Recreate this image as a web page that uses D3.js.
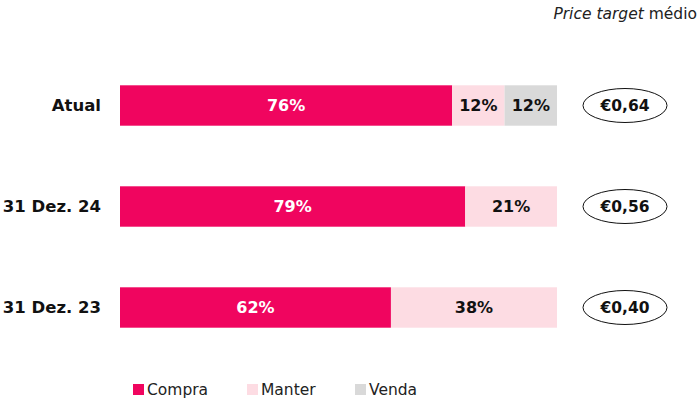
<!doctype html>
<html lang="pt">
<head>
<meta charset="utf-8">
<title>Recomendações</title>
<script src="https://cdn.jsdelivr.net/npm/d3@7"></script>
<style>
  body { margin: 0; background: #fff; font-family: "DejaVu Sans", sans-serif; }
</style>
</head>
<body>
<svg id="chart" width="699" height="400"></svg>
<script>
// data
var categories = ["Atual", "31 Dez. 24", "31 Dez. 23"];
var compra = [76, 79, 62];
var manter = [12, 21, 38];
var venda = [12, 0, 0];
var targets = ["€0,64", "€0,56", "€0,40"];
var seriesNames = ["Compra", "Manter", "Venda"];
var colors = ["#F0055F", "#FDDCE3", "#D9D9D9"];

var svg = d3.select("#chart");

var x = d3.scaleLinear().domain([0, 100]).range([120, 557]);
var y = d3.scaleBand().domain(categories).range([55, 358]).paddingInner(0.6).paddingOuter(0.3);

var rows = categories.map(function(c, i) {
  return { cat: c, vals: [compra[i], manter[i], venda[i]], target: targets[i] };
});

var g = svg.selectAll("g.row").data(rows).enter().append("g").attr("class", "row");

g.each(function(d) {
  var el = d3.select(this);
  var start = 0;
  d.vals.forEach(function(v, k) {
    if (v <= 0) return;
    el.append("rect")
      .attr("x", x(start)).attr("y", y(d.cat))
      .attr("width", x(start + v) - x(start)).attr("height", y.bandwidth())
      .attr("fill", colors[k]);
    el.append("text")
      .attr("x", (x(start) + x(start + v)) / 2)
      .attr("y", y(d.cat) + y.bandwidth() / 2)
      .attr("dy", "0.35em").attr("text-anchor", "middle")
      .attr("font-size", 16).attr("font-weight", 700)
      .attr("fill", k === 0 ? "#fff" : "#111")
      .text(v + "%");
    start += v;
  });
  el.append("text")
    .attr("x", 101).attr("y", y(d.cat) + y.bandwidth() / 2)
    .attr("dy", "0.35em").attr("text-anchor", "end")
    .attr("font-size", 16.5).attr("font-weight", 700).attr("fill", "#111")
    .text(d.cat);
  el.append("ellipse")
    .attr("cx", 625).attr("cy", y(d.cat) + y.bandwidth() / 2)
    .attr("rx", 42).attr("ry", 17)
    .attr("fill", "#fff").attr("stroke", "#111").attr("stroke-width", 1);
  el.append("text")
    .attr("x", 625).attr("y", y(d.cat) + y.bandwidth() / 2)
    .attr("dy", "0.35em").attr("text-anchor", "middle")
    .attr("font-size", 15.5).attr("font-weight", 700).attr("fill", "#111")
    .text(d.target);
});

var title = svg.append("text")
  .attr("x", 697).attr("y", 19).attr("text-anchor", "end")
  .attr("font-size", 15.5).attr("fill", "#222");
title.append("tspan").attr("font-style", "italic").text("Price target");
title.append("tspan").text(" médio");

// legend
var legX = [133, 247, 355];
var leg = svg.selectAll("g.leg").data(seriesNames).enter().append("g")
  .attr("transform", function(d, i) { return "translate(" + legX[i] + ",390)"; });
leg.append("rect").attr("x", 0).attr("y", -6).attr("width", 11).attr("height", 11)
  .attr("fill", function(d, i) { return colors[i]; });
leg.append("text").attr("x", 14).attr("dy", "0.35em")
  .attr("font-size", 15.5).attr("fill", "#222").text(function(d) { return d; });
</script>
</body>
</html>
